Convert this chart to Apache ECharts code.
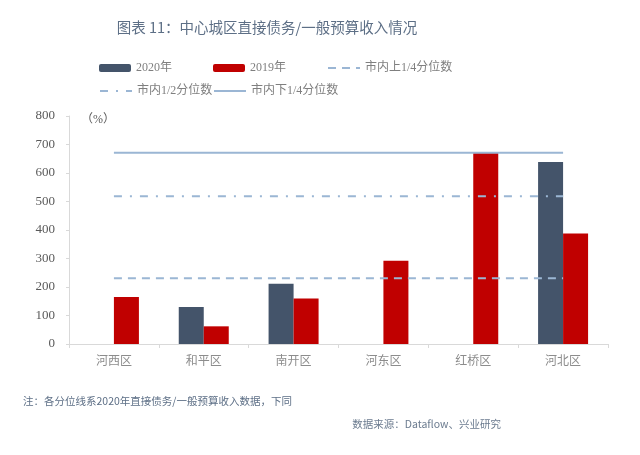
<!DOCTYPE html>
<html><head><meta charset="utf-8">
<script src="https://cdn.jsdelivr.net/npm/echarts@6/dist/echarts.min.js"></script>
<style>html,body{margin:0;padding:0;background:#fff}#c{width:640px;height:455px}</style>
</head><body><div id="c"></div>
<script>
var categories = ['河西区','和平区','南开区','河东区','红桥区','河北区'];
var values2020 = [null, 130, 211, null, null, 639];
var values2019 = [165, 62, 160, 292, 670, 388];
var upperQuartile = 231;   // 市内上1/4分位数
var median = 518;          // 市内1/2分位数
var lowerQuartile = 671;   // 市内下1/4分位数
var yTicks = [0,100,200,300,400,500,600,700,800];

function constLine(v){ return categories.map(function(){ return v; }); }

var chart = echarts.init(document.getElementById('c'), null, {renderer:'canvas'});
var lineColor = '#9bb6d4';
var serif = '"Liberation Serif","Times New Roman","Noto Sans CJK SC",serif';
var legendText = {color:'#7f7f7f', fontSize:12, fontFamily: serif};
function lg(name, left, top, isLine){
  var d = {name:name};
  if (isLine) d.itemStyle = {opacity:0, color:'rgba(0,0,0,0)', borderWidth:0};
  return {data:[d], left:left, top:top, itemWidth:32, itemHeight:8, itemGap:0,
          textStyle:legendText, padding:0, selectedMode:false};
}
chart.setOption({
  animation:false,
  backgroundColor:'#fff',
  title:[{
    text:'图表 11：中心城区直接债务/一般预算收入情况',
    left:262, textAlign:'center', top:15,
    textStyle:{color:'#5d6f86', fontSize:14.5, fontWeight:'normal', fontFamily:'"Noto Sans CJK SC",sans-serif'}
  },{
    text:'注：各分位线系2020年直接债务/一般预算收入数据，下同',
    left:18, top:391,
    textStyle:{color:'#5d6f86', fontSize:10.5, fontWeight:'normal', fontFamily:'"Noto Sans CJK SC",sans-serif'}
  },{
    text:'数据来源：Dataflow、兴业研究',
    right:134, top:414,
    textStyle:{color:'#6b7b8f', fontSize:10.5, fontWeight:'normal', fontFamily:'"Noto Sans CJK SC",sans-serif'}
  },{
    text:'（%）',
    left:76, top:109,
    textStyle:{color:'#595959', fontSize:12, fontWeight:'normal', fontFamily:serif}
  }],
  legend:[
    lg('2020年', 99, 62),
    lg('2019年', 213, 62),
    lg('市内上1/4分位数', 327, 62, true),
    lg('市内1/2分位数', 99, 85, true),
    lg('市内下1/4分位数', 213, 85, true)
  ],
  grid:{left:69, right:32, top:116, bottom:111},
  xAxis:{
    type:'category', data:categories, boundaryGap:true,
    axisLine:{lineStyle:{color:'#d9d9d9'}},
    axisTick:{show:true, lineStyle:{color:'#d9d9d9'}, length:4},
    axisLabel:{color:'#8c8c8c', fontSize:12, margin:10, fontFamily:'"Noto Sans CJK SC",sans-serif'}
  },
  yAxis:{
    type:'value', min:yTicks[0], max:yTicks[yTicks.length-1], interval:100,
    splitLine:{show:false},
    axisLine:{show:true, lineStyle:{color:'#d9d9d9'}},
    axisTick:{show:true, length:3, lineStyle:{color:'#d9d9d9'}},
    axisLabel:{color:'#595959', fontSize:13, margin:14, fontFamily:serif}
  },
  series:[
    {name:'2020年', type:'bar', data:values2020, barWidth:25, barGap:'0%',
     itemStyle:{color:'#44546a'}, z:2},
    {name:'2019年', type:'bar', data:values2019, barWidth:25, barGap:'0%',
     itemStyle:{color:'#c00000'}, z:2},
    {name:'市内上1/4分位数', type:'line', data:constLine(upperQuartile), symbol:'none',
     lineStyle:{color:lineColor, width:2, type:[8,6]}, itemStyle:{color:lineColor}, z:5},
    {name:'市内1/2分位数', type:'line', data:constLine(median), symbol:'none',
     lineStyle:{color:lineColor, width:2, type:[8,8,2,8]}, itemStyle:{color:lineColor}, z:5},
    {name:'市内下1/4分位数', type:'line', data:constLine(lowerQuartile), symbol:'none',
     lineStyle:{color:lineColor, width:2}, itemStyle:{color:lineColor}, z:5}
  ]
});
</script></body></html>
